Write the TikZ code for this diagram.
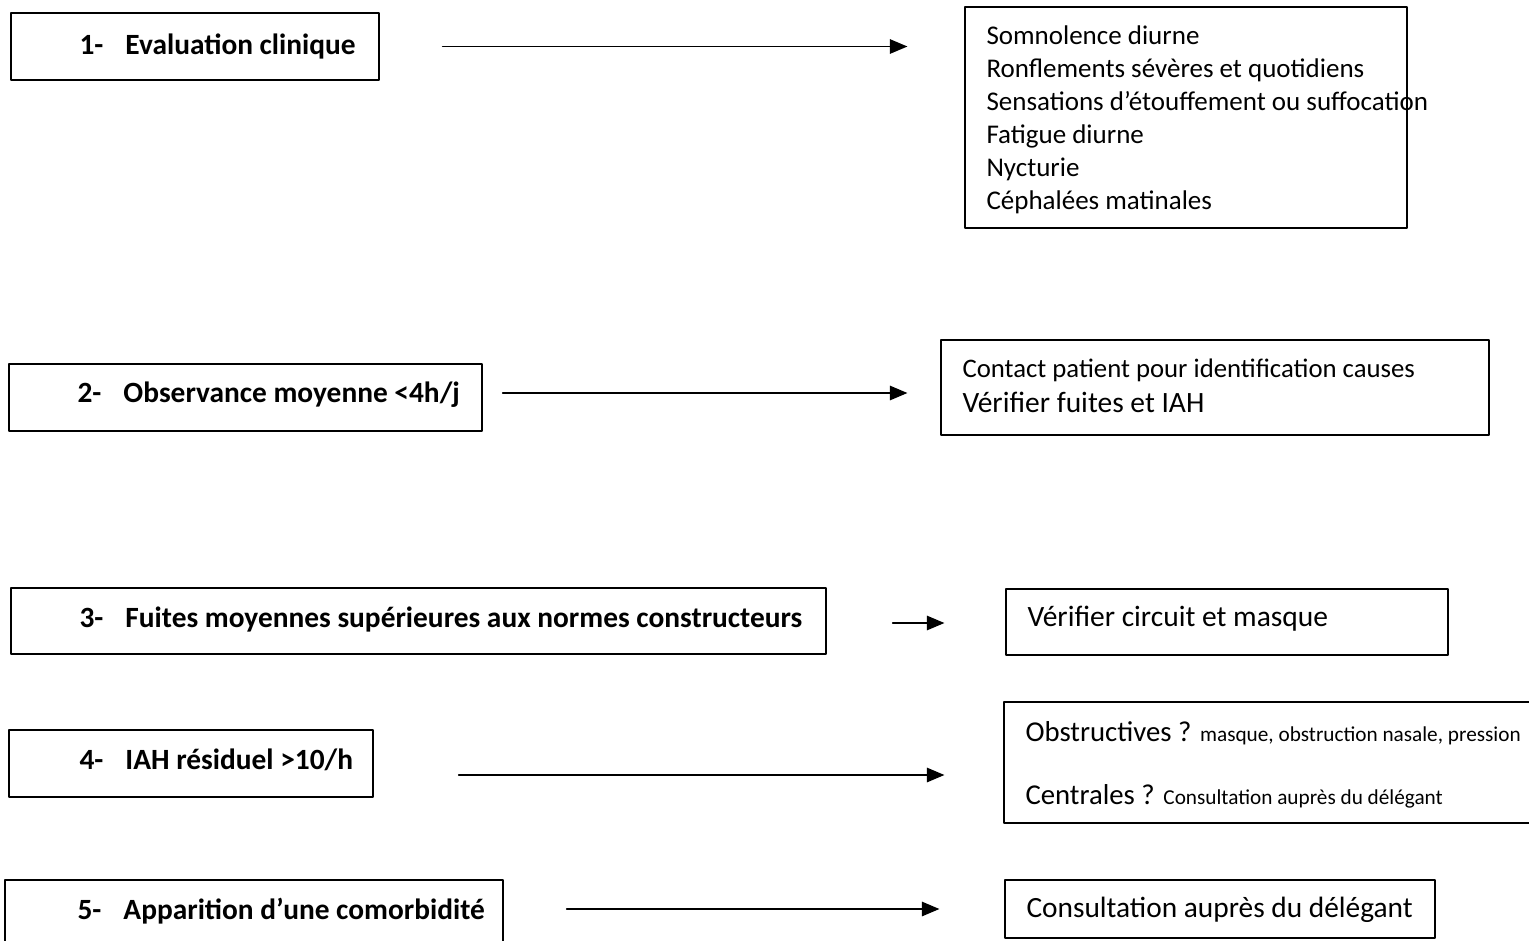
\documentclass[tikz,border=0pt]{standalone}
\usepackage{fontspec}
\setmainfont{Carlito}
\usetikzlibrary{arrows}

\newcommand{\pxu}{0.4pt}
\newcommand{\etape}[1]{\makebox[18.4pt][l]{#1-}}

\begin{document}
\begin{tikzpicture}[line cap=round,line join=round,>=triangle 45,x=0.4pt,y=-0.4pt,
		boite/.style={draw,line width=0.5pt,inner sep=0pt},
		titre/.style={anchor=west,inner sep=0pt,font=\fontsize{11.75}{14}\selectfont\bfseries},
		liste/.style={anchor=west,inner sep=0pt,align=left,font=\fontsize{10.8}{13.2}\selectfont},
		fleche/.style={->,line width=0.6pt}]
		\useasboundingbox (0,0) rectangle (1529,941);
		\clip (0,0) rectangle (1529,941);
		% cadres
		\node[boite,minimum width=368*\pxu,minimum height=67*\pxu] (eval) at (195,46.5) {};
		\node[boite,minimum width=442*\pxu,minimum height=221*\pxu] (evalr) at (1186,117.5) {};
		\node[boite,minimum width=473*\pxu,minimum height=67*\pxu] (obs) at (245.5,397.5) {};
		\node[boite,minimum width=548*\pxu,minimum height=95*\pxu] (obsr) at (1215,387.5) {};
		\node[boite,minimum width=815*\pxu,minimum height=66*\pxu] (fuite) at (418.5,621) {};
		\node[boite,minimum width=442*\pxu,minimum height=66*\pxu] (fuiter) at (1227,622) {};
		\node[boite,minimum width=364*\pxu,minimum height=67*\pxu] (iah) at (191,763.5) {};
		\node[boite,minimum width=541*\pxu,minimum height=121*\pxu] (iahr) at (1274.5,762.5) {};
		\node[boite,minimum width=498*\pxu,minimum height=67*\pxu] (como) at (254,913.5) {};
		\node[boite,minimum width=430*\pxu,minimum height=58*\pxu] (comor) at (1220,909) {};
		% textes
		\node[titre] (eval-t) at (79,46) {\etape{1}Evaluation clinique};
		\node[titre] (obs-t) at (77,395) {\etape{2}Observance moyenne <4h/j};
		\node[titre] (fuite-t) at (79,619) {\etape{3}Fuites moyennes supérieures aux normes constructeurs};
		\node[titre] (iah-t) at (79,760) {\etape{4}IAH résiduel >10/h};
		\node[titre] (como-t) at (77,911) {\etape{5}Apparition d’une comorbidité};
		\node[liste] (evalr-t) at (986,120) {Somnolence diurne\\Ronflements sévères et quotidiens\\Sensations d’étouffement ou suffocation\\Fatigue diurne\\Nycturie\\Céphalées matinales};
		\node[liste] (obsr-t) at (962,386) {{\fontsize{10.7}{12}\selectfont Contact patient pour identification causes}\\[1pt]
			{\fontsize{11.8}{13}\selectfont Vérifier fuites et IAH}};
		\node[liste,font=\fontsize{11.8}{14}\selectfont] (fuiter-t) at (1027,619) {Vérifier circuit et masque};
		\node[liste,font=\fontsize{11.5}{25.2}\selectfont] (iahr-t) at (1025,765) {Obstructives ? {\fontsize{8.5}{10}\selectfont masque, obstruction nasale, pression}\\
			Centrales ? {\fontsize{8.5}{10}\selectfont Consultation auprès du délégant}};
		\node[liste,font=\fontsize{11.75}{14}\selectfont] (comor-t) at (1026,910) {Consultation auprès du délégant};
		% fleches
		\draw[fleche,shorten <=63*\pxu,shorten >=57*\pxu] (eval.east) -- (eval.east -| evalr.west);
		\draw[fleche,shorten <=20*\pxu,shorten >=33*\pxu] ([yshift=4.5*\pxu]obs.east) -- ([yshift=4.5*\pxu]obs.east -| obsr.west);
		\draw[fleche,shorten <=66*\pxu,shorten >=61*\pxu] ([yshift=-2*\pxu]fuite.east) -- ([yshift=-2*\pxu]fuite.east -| fuiter.west);
		\draw[fleche,shorten <=85*\pxu,shorten >=59*\pxu] ([yshift=-11.5*\pxu]iah.east) -- ([yshift=-11.5*\pxu]iah.east -| iahr.west);
		\draw[fleche,shorten <=63*\pxu,shorten >=65*\pxu] ([yshift=4.5*\pxu]como.east) -- ([yshift=4.5*\pxu]como.east -| comor.west);
	\end{tikzpicture}
\end{document}
